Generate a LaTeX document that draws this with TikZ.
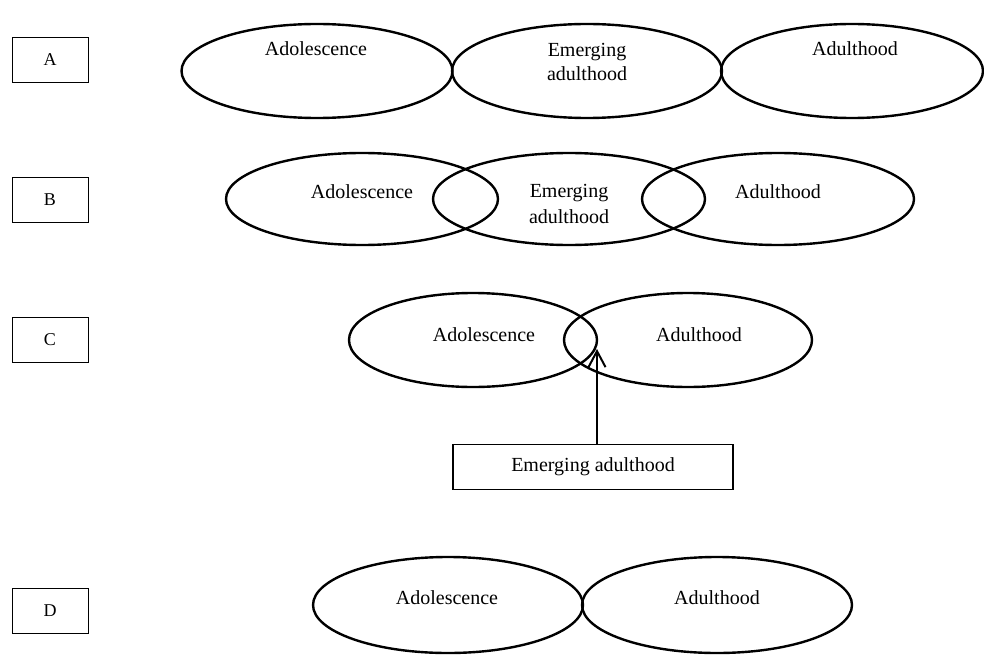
\documentclass[tikz,border=0pt]{standalone}
\usepackage{fontspec}
\setmainfont{Liberation Serif}
\usetikzlibrary{shapes.geometric,arrows.meta}
\begin{document}
\begin{tikzpicture}[x=1pt,y=-1pt,
  ell/.style={draw,line width=2.4pt,ellipse,inner sep=0pt},
  lbl/.style={draw,line width=1pt,minimum width=76pt,minimum height=45pt,inner sep=0pt,font=\fontsize{18}{20}\selectfont},
  txt/.style={anchor=base,inner sep=0pt,font=\fontsize{20}{25}\selectfont,align=center},
  ebox/.style={draw,line width=1.3pt,minimum width=280pt,minimum height=45pt,inner sep=0pt,font=\fontsize{20}{25}\selectfont},
  arr/.style={line width=2.4pt,-{Straight Barb[length=16pt,width=17pt,line width=2pt]}}]
\useasboundingbox (0,0) rectangle (984,655);
% labels
\node[lbl] (la) at (50,60) {A};
\node[lbl] (lb) at (50,200) {B};
\node[lbl] (lc) at (50,340) {C};
\node[lbl] (ld) at (50,611) {D};
% row A
\node[ell,minimum width=271pt,minimum height=94pt] (a1) at (317,71) {};
\node[ell,minimum width=270pt,minimum height=94pt] (a2) at (587,71) {};
\node[ell,minimum width=262pt,minimum height=94pt] (a3) at (852,71) {};
\node[txt] (ta1) at (316,56) {Adolescence};
\node[txt] (ta2) at (587,57) {Emerging};
\node[txt] (ta2b) at (587,81) {adulthood};
\node[txt] (ta3) at (855,56) {Adulthood};
% row B
\node[ell,minimum width=272pt,minimum height=92pt] (b1) at (362,199) {};
\node[ell,minimum width=272pt,minimum height=92pt] (b2) at (569,199) {};
\node[ell,minimum width=272pt,minimum height=92pt] (b3) at (778,199) {};
\node[txt] (tb1) at (362,198) {Adolescence};
\node[txt] (tb2) at (569,197) {Emerging};
\node[txt] (tb2b) at (569,223) {adulthood};
\node[txt] (tb3) at (778,198) {Adulthood};
% row C
\node[ell,minimum width=248pt,minimum height=94pt] (c1) at (473,340) {};
\node[ell,minimum width=248pt,minimum height=94pt] (c2) at (688,340) {};
\node[txt] (tc1) at (484,341) {Adolescence};
\node[txt] (tc2) at (699,341) {Adulthood};
\node[ebox] (em) at (593,467) {Emerging adulthood};
\coordinate (tip) at (597,349);
\draw[arr] (em.north -| tip) -- (tip);
% row D
\node[ell,minimum width=270pt,minimum height=96pt] (d1) at (448,605) {};
\node[ell,minimum width=270pt,minimum height=96pt] (d2) at (717,605) {};
\node[txt] (td1) at (447,604) {Adolescence};
\node[txt] (td2) at (717,604) {Adulthood};
\end{tikzpicture}
\end{document}
